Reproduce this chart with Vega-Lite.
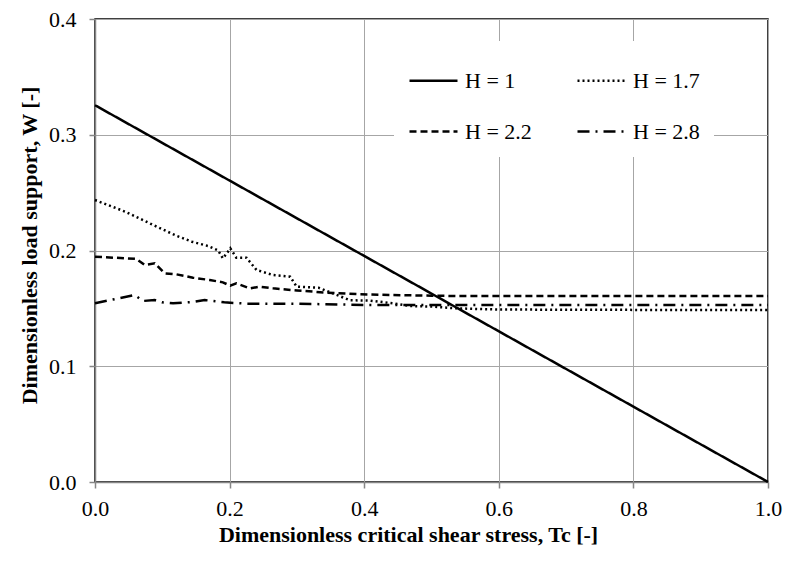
{
  "$schema": "https://vega.github.io/schema/vega-lite/v6.json",
  "width": 673,
  "height": 463,
  "autosize": "none",
  "padding": {"left": 95, "top": 19, "right": 17, "bottom": 79},
  "config": {
    "font": "Liberation Serif",
    "view": {"stroke": "#000000", "strokeWidth": 1.5}
  },
  "data": {
    "values": [
      {"H": "H = 1", "tc": 0, "w": 0.3255},
      {"H": "H = 1", "tc": 1, "w": 0.0},
      {"H": "H = 1.7", "tc": 0, "w": 0.2436},
      {"H": "H = 1.7", "tc": 0.045, "w": 0.2335},
      {"H": "H = 1.7", "tc": 0.094, "w": 0.22},
      {"H": "H = 1.7", "tc": 0.12, "w": 0.213},
      {"H": "H = 1.7", "tc": 0.144, "w": 0.2076},
      {"H": "H = 1.7", "tc": 0.168, "w": 0.2039},
      {"H": "H = 1.7", "tc": 0.183, "w": 0.2},
      {"H": "H = 1.7", "tc": 0.19, "w": 0.1932},
      {"H": "H = 1.7", "tc": 0.1976, "w": 0.199},
      {"H": "H = 1.7", "tc": 0.201, "w": 0.2019},
      {"H": "H = 1.7", "tc": 0.21, "w": 0.1938},
      {"H": "H = 1.7", "tc": 0.225, "w": 0.1938},
      {"H": "H = 1.7", "tc": 0.24, "w": 0.1832},
      {"H": "H = 1.7", "tc": 0.2645, "w": 0.1788},
      {"H": "H = 1.7", "tc": 0.29, "w": 0.1774},
      {"H": "H = 1.7", "tc": 0.2997, "w": 0.1687},
      {"H": "H = 1.7", "tc": 0.332, "w": 0.1679},
      {"H": "H = 1.7", "tc": 0.379, "w": 0.157},
      {"H": "H = 1.7", "tc": 0.409, "w": 0.1567},
      {"H": "H = 1.7", "tc": 0.443, "w": 0.1544},
      {"H": "H = 1.7", "tc": 0.468, "w": 0.152},
      {"H": "H = 1.7", "tc": 0.502, "w": 0.1515},
      {"H": "H = 1.7", "tc": 0.537, "w": 0.15},
      {"H": "H = 1.7", "tc": 0.6, "w": 0.149},
      {"H": "H = 1.7", "tc": 0.8, "w": 0.1487},
      {"H": "H = 1.7", "tc": 1.0, "w": 0.1486},
      {"H": "H = 2.2", "tc": 0, "w": 0.1947},
      {"H": "H = 2.2", "tc": 0.0614, "w": 0.1927},
      {"H": "H = 2.2", "tc": 0.0738, "w": 0.1875},
      {"H": "H = 2.2", "tc": 0.0887, "w": 0.189},
      {"H": "H = 2.2", "tc": 0.1035, "w": 0.1803},
      {"H": "H = 2.2", "tc": 0.121, "w": 0.1794},
      {"H": "H = 2.2", "tc": 0.1456, "w": 0.1765},
      {"H": "H = 2.2", "tc": 0.1704, "w": 0.1745},
      {"H": "H = 2.2", "tc": 0.19, "w": 0.1725},
      {"H": "H = 2.2", "tc": 0.201, "w": 0.1696},
      {"H": "H = 2.2", "tc": 0.21, "w": 0.1716},
      {"H": "H = 2.2", "tc": 0.23, "w": 0.1673},
      {"H": "H = 2.2", "tc": 0.2447, "w": 0.1687},
      {"H": "H = 2.2", "tc": 0.2645, "w": 0.1673},
      {"H": "H = 2.2", "tc": 0.3, "w": 0.1655},
      {"H": "H = 2.2", "tc": 0.344, "w": 0.1636},
      {"H": "H = 2.2", "tc": 0.394, "w": 0.1622},
      {"H": "H = 2.2", "tc": 0.443, "w": 0.1615},
      {"H": "H = 2.2", "tc": 0.5, "w": 0.161},
      {"H": "H = 2.2", "tc": 0.537, "w": 0.1607},
      {"H": "H = 2.2", "tc": 1.0, "w": 0.1607},
      {"H": "H = 2.8", "tc": 0, "w": 0.1544},
      {"H": "H = 2.8", "tc": 0.059, "w": 0.1616},
      {"H": "H = 2.8", "tc": 0.0713, "w": 0.1564},
      {"H": "H = 2.8", "tc": 0.0887, "w": 0.1572},
      {"H": "H = 2.8", "tc": 0.0996, "w": 0.1552},
      {"H": "H = 2.8", "tc": 0.116, "w": 0.1544},
      {"H": "H = 2.8", "tc": 0.146, "w": 0.1555},
      {"H": "H = 2.8", "tc": 0.163, "w": 0.1572},
      {"H": "H = 2.8", "tc": 0.192, "w": 0.1552},
      {"H": "H = 2.8", "tc": 0.225, "w": 0.1541},
      {"H": "H = 2.8", "tc": 0.255, "w": 0.1541},
      {"H": "H = 2.8", "tc": 0.3, "w": 0.154},
      {"H": "H = 2.8", "tc": 0.4, "w": 0.153},
      {"H": "H = 2.8", "tc": 0.5, "w": 0.1529},
      {"H": "H = 2.8", "tc": 1.0, "w": 0.1529}
    ]
  },
  "mark": {"type": "line", "color": "#000000", "strokeWidth": 2.5, "strokeCap": "butt"},
  "encoding": {
    "x": {
      "field": "tc",
      "type": "quantitative",
      "scale": {"domain": [0, 1], "nice": false, "zero": false},
      "axis": {
        "title": "Dimensionless critical shear stress, Tc [-]",
        "values": [0, 0.2, 0.4, 0.6, 0.8, 1.0],
        "format": ".1f",
        "labelFont": "Liberation Serif",
        "labelFontSize": 22,
        "labelColor": "#000000",
        "labelFlush": false,
        "labelPadding": 10,
        "titleFont": "Liberation Serif",
        "titleFontSize": 22,
        "titleFontWeight": "bold",
        "titleColor": "#000000",
        "titlePadding": 5,
        "titleX": 313,
        "titleAnchor": "middle",
        "domainColor": "#868686",
        "domainWidth": 1.5,
        "gridColor": "#a6a6a6",
        "gridWidth": 1,
        "tickColor": "#868686",
        "tickSize": 6,
        "tickWidth": 1.5
      }
    },
    "y": {
      "field": "w",
      "type": "quantitative",
      "scale": {"domain": [0, 0.4], "nice": false},
      "axis": {
        "title": "Dimensionless load support, W [-]",
        "values": [0, 0.1, 0.2, 0.3, 0.4],
        "format": ".1f",
        "labelFont": "Liberation Serif",
        "labelFontSize": 22,
        "labelColor": "#000000",
        "labelFlush": false,
        "labelPadding": 13,
        "titleFont": "Liberation Serif",
        "titleFontSize": 22,
        "titleFontWeight": "bold",
        "titleColor": "#000000",
        "titlePadding": 7,
        "titleY": 226,
        "titleAnchor": "middle",
        "domainColor": "#868686",
        "domainWidth": 1.5,
        "gridColor": "#a6a6a6",
        "gridWidth": 1,
        "tickColor": "#868686",
        "tickSize": 6,
        "tickWidth": 1.5
      }
    },
    "strokeDash": {
      "field": "H",
      "type": "nominal",
      "scale": {
        "domain": ["H = 1", "H = 1.7", "H = 2.2", "H = 2.8"],
        "range": [[1, 0], [2, 3], [7, 4], [12, 6, 2, 6]]
      },
      "legend": {
        "title": null,
        "orient": "none",
        "legendX": 299,
        "legendY": 22,
        "padding": 14,
        "columns": 2,
        "direction": "horizontal",
        "fillColor": "#ffffff",
        "symbolType": "stroke",
        "symbolSize": 2304,
        "symbolStrokeWidth": 2.5,
        "symbolStrokeColor": "#000000",
        "labelFont": "Liberation Serif",
        "labelFontSize": 22,
        "labelColor": "#000000",
        "labelOffset": 6,
        "columnPadding": 40,
        "rowPadding": 14
      }
    }
  }
}
